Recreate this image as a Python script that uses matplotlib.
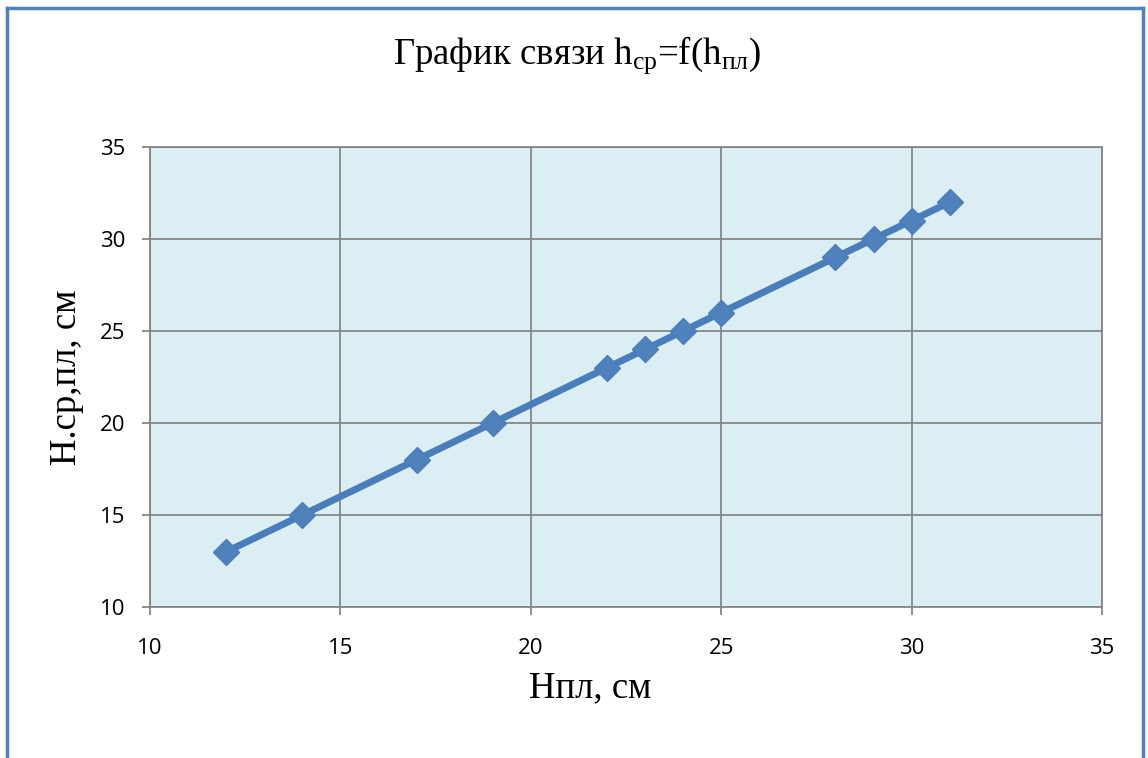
import matplotlib
matplotlib.use("Agg")
import matplotlib.pyplot as plt
from matplotlib.lines import Line2D

plt.rcParams["mathtext.fontset"] = "custom"
plt.rcParams["mathtext.rm"] = "Liberation Serif"
plt.rcParams["mathtext.it"] = "Liberation Serif:italic"

h_pl = [12, 14, 17, 19, 22, 23, 24, 25, 28, 29, 30, 31]
h_sr = [13, 15, 18, 20, 23, 24, 25, 26, 29, 30, 31, 32]
ticks = [10, 15, 20, 25, 30, 35]

W, H = 1148, 758
fig = plt.figure(figsize=(W / 100, H / 100), dpi=100)
ax = fig.add_axes([150 / W, 1 - 607 / H, (1102 - 150) / W, (607 - 147) / H])
ax.set_facecolor("#DBEEF4")

ax.plot(h_pl, h_sr, color="#4A7EBB", lw=5, marker="D", ms=13,
        markerfacecolor="#4F81BD", markeredgecolor="#4A7EBB", mew=1,
        zorder=3, clip_on=False)

ax.set_xlim(10, 35)
ax.set_ylim(10, 35)
ax.set_xticks(ticks)
ax.set_yticks(ticks)
ax.grid(True, color="#868686", lw=1.3)
ax.set_axisbelow(True)
for s in ax.spines.values():
    s.set_color("#868686")
    s.set_linewidth(1.3)
ax.tick_params(axis="both", color="#868686", length=5.5, width=1.3,
               labelsize=16)
ax.tick_params(axis="x", pad=17)
ax.tick_params(axis="y", pad=12)
for lab in ax.get_xticklabels() + ax.get_yticklabels():
    lab.set_fontfamily("Open Sans")

ax.set_xlabel("Нпл, см", fontfamily="Liberation Serif", fontsize=26.5)
ax.set_ylabel("Н.ср,пл, см", fontfamily="Liberation Serif", fontsize=26.5)
ax.xaxis.set_label_coords((590 - 150) / 952, -(688 - 607) / 460)
ax.yaxis.set_label_coords(-(150 - 67) / 952, (607 - 377) / 460)
ax.xaxis.label.set_va("center")
ax.yaxis.label.set_va("center")

fig.text(577 / W, 1 - 55 / H,
         r"График связи h$_{\mathregular{ср}}$=f(h$_{\mathregular{пл}}$)",
         ha="center", va="center", fontsize=26.5, fontfamily="Liberation Serif")

# figure border (left, top, right)
bc = "#4F81BD"
fig.add_artist(Line2D([7 / W, 7 / W], [0, 1 - 8 / H], color=bc, lw=2.5, transform=fig.transFigure))
fig.add_artist(Line2D([7 / W, 1143 / W], [1 - 8 / H, 1 - 8 / H], color=bc, lw=2.5, transform=fig.transFigure))
fig.add_artist(Line2D([1143 / W, 1143 / W], [0, 1 - 8 / H], color=bc, lw=2.5, transform=fig.transFigure))

fig.savefig("out.png", dpi=100)
